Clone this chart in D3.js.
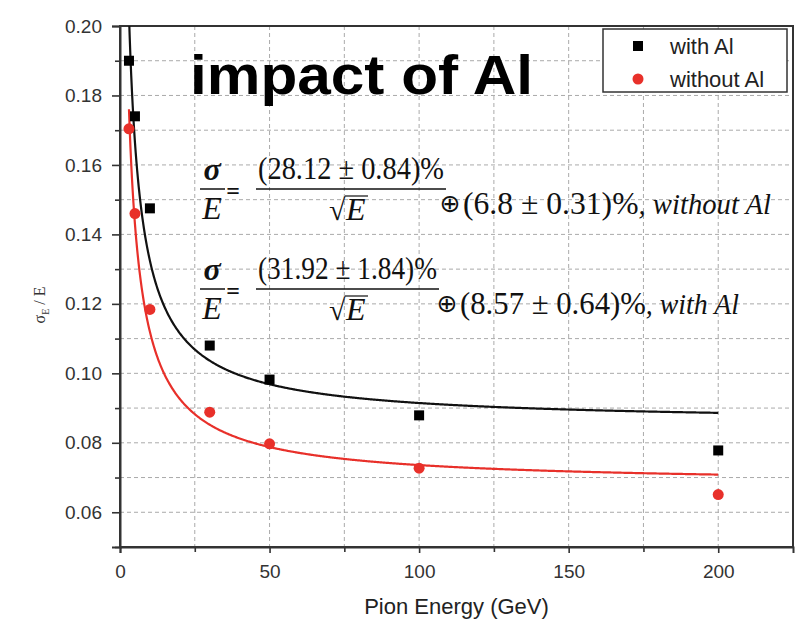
<!DOCTYPE html>
<html>
<head>
<meta charset="utf-8">
<script src="https://cdn.jsdelivr.net/npm/d3@7"></script>
<style>
  body { margin: 0; background: #fff; }
  svg { display: block; }
</style>
</head>
<body>
<svg id="chart"></svg>
<script>
// measured points
const energy = [3, 5, 10, 30, 50, 100, 200];
const withAl = [0.190, 0.174, 0.1475, 0.108, 0.0982, 0.0879, 0.0778];
const withoutAl = [0.1704, 0.146, 0.1184, 0.0888, 0.0797, 0.0727, 0.0651];

// fit parameters shown in the equations (percent)
const stochTerm = [31.92, 28.12];   // with Al, without Al
const constTerm = [8.57, 6.8];

const xTicks = [0, 50, 100, 150, 200];
const xMinor = [25, 75, 125, 175];
const yTicks = [0.06, 0.08, 0.10, 0.12, 0.14, 0.16, 0.18, 0.20];
const yMinor = [0.05, 0.07, 0.09, 0.11, 0.13, 0.15, 0.17, 0.19];

const W = 807, H = 623;
const margin = {top: 26, right: 14, bottom: 76, left: 120};
const width = W - margin.left - margin.right,
      height = H - margin.top - margin.bottom;

const red = '#e8302a';

const root = d3.select('#chart').attr('width', W).attr('height', H);

root.append('defs').append('clipPath').attr('id', 'plotclip')
  .append('rect').attr('width', width).attr('height', height);

const svg = root.append('g')
  .attr('transform', 'translate(' + margin.left + ',' + margin.top + ')');

let x = d3.scaleLinear().domain([0, 225]).range([0, width]);
let y = d3.scaleLinear().domain([0.05, 0.20]).range([height, 0]);

// grid
const grid = svg.append('g').attr('class', 'grid')
  .attr('stroke', '#aaa').attr('stroke-width', 1).attr('stroke-dasharray', '4,3');
grid.selectAll('line.gx').data(xTicks.concat(xMinor).filter(d => d > 0))
  .enter().append('line').attr('class', 'gx')
  .attr('x1', d => x(d)).attr('x2', d => x(d))
  .attr('y1', 0).attr('y2', height);
grid.selectAll('line.gy').data(yTicks.concat(yMinor).filter(d => d > 0.05 && d < 0.2))
  .enter().append('line').attr('class', 'gy')
  .attr('y1', d => y(d)).attr('y2', d => y(d))
  .attr('x1', 0).attr('x2', width);

// axes
const tickFont = '19px "Liberation Sans", Arial, sans-serif';

svg.append('g')
  .attr('transform', 'translate(0,' + height + ')')
  .call(d3.axisBottom(x).tickValues(xTicks).tickSize(6).tickPadding(12).tickFormat(d3.format('d')))
  .call(g => g.selectAll('text').style('font', tickFont).attr('fill', '#333'));
svg.append('g')
  .attr('transform', 'translate(0,' + height + ')')
  .call(d3.axisBottom(x).tickValues(xMinor).tickSize(5).tickFormat(''))
  .call(g => g.select('.domain').remove());

svg.append('g')
  .call(d3.axisLeft(y).tickValues(yTicks).tickSize(8).tickPadding(10).tickFormat(d3.format('.2f')))
  .call(g => g.selectAll('text').style('font', tickFont).attr('fill', '#333'));
svg.append('g')
  .call(d3.axisLeft(y).tickValues(yMinor).tickSize(5).tickFormat(''))
  .call(g => g.select('.domain').remove());

svg.selectAll('.tick line').attr('stroke', '#333').attr('stroke-width', 1.6);

// frame
svg.append('rect')
  .attr('width', width).attr('height', height)
  .attr('fill', 'none').attr('stroke', '#333').attr('stroke-width', 2);
svg.selectAll('.domain').attr('stroke', '#333').attr('stroke-width', 2);

// fit curves
const fitE = d3.range(3, 200.01, 0.25);
function fitValue(i, e) {
  const a = stochTerm[i] / 100, b = constTerm[i] / 100;
  return Math.sqrt(a * a / e + b * b);
}
const line = d3.line().x(d => x(d[0])).y(d => y(d[1]));

const curves = svg.append('g').attr('clip-path', 'url(#plotclip)');
curves.append('path')
  .datum(fitE.map(e => [e, fitValue(0, e)]))
  .attr('d', line).attr('fill', 'none').attr('stroke', '#111').attr('stroke-width', 2.2);
curves.append('path')
  .datum(fitE.map(e => [e, fitValue(1, e)]))
  .attr('d', line).attr('fill', 'none').attr('stroke', red).attr('stroke-width', 2.2);

// points
const sq = 10;
svg.selectAll('rect.pt').data(energy.map((e, i) => [e, withAl[i]]))
  .enter().append('rect').attr('class', 'pt')
  .attr('x', d => x(d[0]) - sq / 2).attr('y', d => y(d[1]) - sq / 2)
  .attr('width', sq).attr('height', sq).attr('fill', '#000');

svg.selectAll('circle.pt').data(energy.map((e, i) => [e, withoutAl[i]]))
  .enter().append('circle').attr('class', 'pt')
  .attr('cx', d => x(d[0])).attr('cy', d => y(d[1]))
  .attr('r', 5.5).attr('fill', red);

// title
root.append('text')
  .attr('x', 190).attr('y', 94)
  .attr('textLength', 343).attr('lengthAdjust', 'spacingAndGlyphs')
  .style('font', 'bold 56px "Liberation Sans", Arial, sans-serif')
  .attr('fill', '#000')
  .text('impact of Al');

// legend
const lg = root.append('g');
lg.append('rect').attr('x', 603).attr('y', 29).attr('width', 184).attr('height', 63)
  .attr('fill', '#fff').attr('stroke', '#333').attr('stroke-width', 1.5);
lg.append('rect').attr('x', 633).attr('y', 41).attr('width', sq).attr('height', sq).attr('fill', '#000');
lg.append('circle').attr('cx', 638).attr('cy', 79).attr('r', 5.5).attr('fill', red);
lg.selectAll('text.lt').data(['with Al', 'without Al']).enter().append('text')
  .attr('x', 670).attr('y', (d, i) => 54 + i * 33)
  .style('font', '22px "Liberation Sans", Arial, sans-serif')
  .attr('fill', '#222')
  .text(d => d);

// equations
const serif = '"Liberation Serif", "Times New Roman", serif';
function equation(top, num, rest, label, restEnd, oplusX) {
  const g = root.append('g').attr('fill', '#111');
  const bar = top + 9;
  g.append('text').attr('x', 212).attr('y', top).attr('text-anchor', 'middle')
    .style('font', 'italic bold 32px ' + serif).text('σ');
  g.append('line').attr('x1', 200).attr('x2', 225).attr('y1', bar).attr('y2', bar)
    .attr('stroke', '#111').attr('stroke-width', 1.5);
  g.append('text').attr('x', 212).attr('y', top + 39).attr('text-anchor', 'middle')
    .style('font', 'italic 32px ' + serif).text('E');
  g.append('text').attr('x', 233).attr('y', top + 19).attr('text-anchor', 'middle')
    .style('font', 'bold 24px ' + serif).text('=');
  g.append('text').attr('x', 258).attr('y', top - 1)
    .attr('textLength', num[1] - 258).attr('lengthAdjust', 'spacingAndGlyphs')
    .style('font', '32px ' + serif).text(num[0]);
  g.append('line').attr('x1', 256).attr('x2', num[1] + 2).attr('y1', bar).attr('y2', bar)
    .attr('stroke', '#111').attr('stroke-width', 1.3);
  g.append('text').attr('x', 329).attr('y', top + 40)
    .style('font', '30px ' + serif).text('√');
  g.append('line').attr('x1', 345).attr('x2', 368).attr('y1', top + 16).attr('y2', top + 16)
    .attr('stroke', '#111').attr('stroke-width', 1.2);
  g.append('text').attr('x', 346).attr('y', top + 40)
    .style('font', 'italic 32px ' + serif).text('E');
  g.append('text').attr('x', oplusX - 1).attr('y', top + 32).attr('text-anchor', 'middle')
    .style('font', '25px "DejaVu Sans", sans-serif').text('⊕');
  const t = g.append('text').attr('x', oplusX + 12).attr('y', top + 34)
    .attr('textLength', restEnd - oplusX - 12).attr('lengthAdjust', 'spacingAndGlyphs')
    .style('font', '32px ' + serif);
  t.append('tspan').text(rest);
  t.append('tspan').style('font-style', 'italic').style('font-size', '29px').text(label);
}
equation(180, ['(28.12 ± 0.84)%', 444], '(6.8 ± 0.31)%', ', without  Al', 771, 451);
equation(280, ['(31.92 ± 1.84)%', 437], '(8.57 ± 0.64)%', ', with  Al', 739, 448);

// axis titles
root.append('text')
  .attr('x', margin.left + width / 2).attr('y', 614).attr('text-anchor', 'middle')
  .style('font', '22px "Liberation Sans", Arial, sans-serif').attr('fill', '#222')
  .text('Pion Energy (GeV)');

const yl = root.append('text')
  .attr('transform', 'translate(45,305) rotate(-90)').attr('text-anchor', 'middle')
  .style('font', '16px ' + serif).attr('fill', '#333');
yl.append('tspan').text('σ');
yl.append('tspan').attr('dy', 4).style('font-size', '10px').text('E');
yl.append('tspan').attr('dy', -4).text(' / E');
</script>
</body>
</html>
